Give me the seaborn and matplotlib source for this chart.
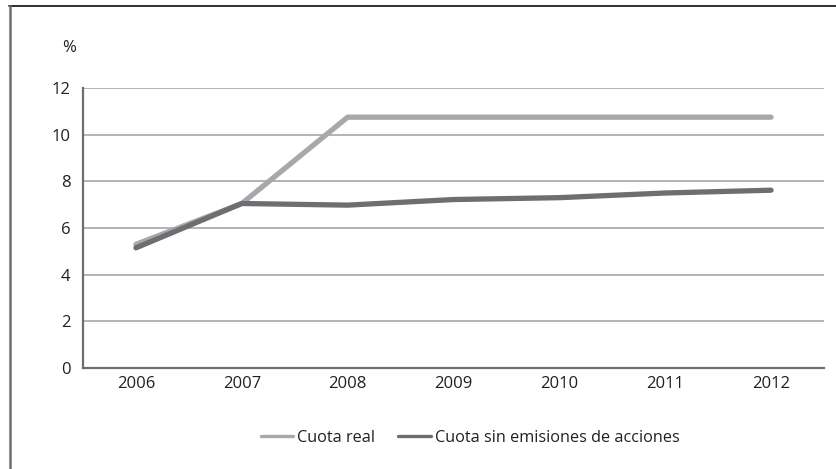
import pandas as pd
import matplotlib.pyplot as plt
import matplotlib.lines as mlines
import seaborn as sns

# datos
anios = ['2006', '2007', '2008', '2009', '2010', '2011', '2012']
cuota_real = [5.3, 7.05, 10.75, 10.75, 10.75, 10.75, 10.75]
cuota_sin = [5.15, 7.05, 6.98, 7.22, 7.3, 7.5, 7.62]
series = ['Cuota real', 'Cuota sin emisiones de acciones']

df = pd.DataFrame({
    'anio': anios * 2,
    'valor': cuota_real + cuota_sin,
    'serie': [series[0]] * len(anios) + [series[1]] * len(anios),
})
df['pos'] = list(range(len(anios))) * 2

sns.set_theme(style='white')
plt.rcParams['font.family'] = ['Open Sans', 'DejaVu Sans']

fig = plt.figure(figsize=(8.36, 4.69), dpi=100)
ax = fig.add_axes([83 / 836, 1 - 368 / 469, (824 - 83) / 836, (368 - 88) / 469])

colores = {series[0]: '#a7a8ab', series[1]: '#6d6e71'}
sns.lineplot(data=df, x='pos', y='valor', hue='serie', palette=colores,
             linewidth=3.8, ax=ax, legend=False, zorder=3)

ax.set_xlim(-0.5, len(anios) - 0.5)
ax.set_ylim(0, 12)
ax.set_xticks(range(len(anios)))
ax.set_xticklabels(anios)
ax.set_yticks(range(0, 13, 2))
ax.set_xlabel('')
ax.set_ylabel('')
ax.tick_params(axis='both', length=0, labelsize=12, colors='#231f20')
ax.tick_params(axis='y', pad=9)
ax.tick_params(axis='x', pad=6)

ax.yaxis.grid(True, color='#b3b3b3', linewidth=1.4)
ax.set_axisbelow(True)
for s in ['top', 'right']:
    ax.spines[s].set_visible(False)
for s in ['left', 'bottom']:
    ax.spines[s].set_color('#6d6e71')
    ax.spines[s].set_linewidth(1.6)

fig.text(62 / 836, 1 - 48 / 469, '%', fontsize=12, color='#231f20',
         ha='left', va='center')

# leyenda
handles = [mlines.Line2D([], [], color=colores[s], linewidth=2.4) for s in series]
fig.legend(handles, series, loc='center', bbox_to_anchor=(470 / 836, 1 - 438 / 469),
           ncol=2, frameon=False, fontsize=11.7, handlelength=2.0,
           handletextpad=0.25, columnspacing=1.4, labelcolor='#231f20',
           borderpad=0, borderaxespad=0)

# marco
fig.add_artist(mlines.Line2D([9 / 836, 1], [1 - 6 / 469, 1 - 6 / 469],
                             color='#231f20', linewidth=1.3))
fig.add_artist(mlines.Line2D([10 / 836, 10 / 836], [0, 1 - 6 / 469],
                             color='#6d6e71', linewidth=1.8))

fig.savefig('out.png', dpi=100)
